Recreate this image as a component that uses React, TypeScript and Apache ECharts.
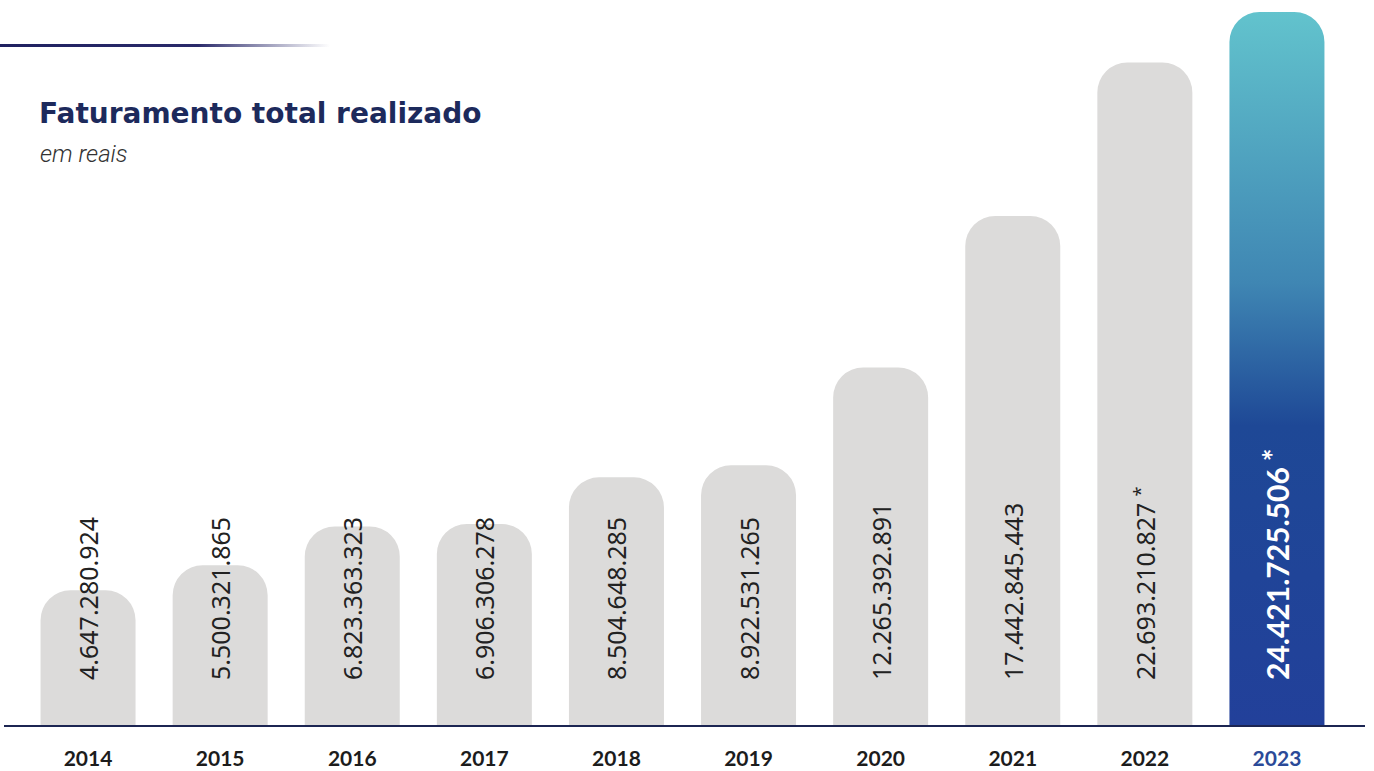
import React, { useEffect, useRef } from "react";
import * as echarts from "echarts";

const years = ["2014", "2015", "2016", "2017", "2018", "2019", "2020", "2021", "2022", "2023"];
const revenue = [
  4647280924, 5500321865, 6823363323, 6906306278, 8504648285,
  8922531265, 12265392891, 17442845443, 22693210827, 24421725506,
];
const labels = [
  "4.647.280.924", "5.500.321.865", "6.823.363.323", "6.906.306.278", "8.504.648.285",
  "8.922.531.265", "12.265.392.891", "17.442.845.443", "22.693.210.827", "24.421.725.506",
];
const flagged = [false, false, false, false, false, false, false, false, true, true];

export default function App() {
  const ref = useRef<HTMLDivElement>(null);
  useEffect(() => {
    if (!ref.current) return;
    const chart = echarts.init(ref.current, null, { renderer: "svg" });
    const last = years.length - 1;
    const data = revenue.map((v, i) => {
      const isLast = i === last;
      const item: any = {
        value: v,
        itemStyle: isLast
          ? {
              color: new echarts.graphic.LinearGradient(0, 0, 0, 1, [
                { offset: 0, color: "#62c3cd" },
                { offset: 0.38, color: "#3f86b3" },
                { offset: 0.58, color: "#1e4896" },
                { offset: 1, color: "#22409a" },
              ]),
            }
          : { color: "#dcdbda" },
      };
      if (isLast) {
        item.label = {
          rich: {
            v: { fontSize: 30, fontWeight: "bold", color: "#ffffff", fontFamily: "Lato" },
            s: { fontSize: 30, fontWeight: "bold", color: "#ffffff", fontFamily: "Lato", padding: [0, 0, 8, 6] },
          },
        };
      }
      return item;
    });
    chart.setOption({
      animation: false,
      grid: { left: 22, right: 31, top: 12, bottom: 45 },
      xAxis: {
        type: "category",
        data: years,
        axisLine: { show: false },
        axisTick: { show: false },
        axisLabel: {
          margin: 21,
          fontSize: 21,
          fontWeight: "bold",
          fontFamily: "Lato",
          color: (_v: any, i: number) => (i === last ? "#2b4a98" : "#1c1c1c"),
        },
      },
      yAxis: {
        type: "value",
        min: 0,
        max: "dataMax",
        show: false,
        splitLine: { show: false },
      },
      series: [
        {
          type: "bar",
          data,
          barWidth: 95,
          itemStyle: { borderRadius: [30, 30, 0, 0] },
          label: {
            show: true,
            position: "insideBottom",
            distance: 46,
            rotate: 90,
            align: "left",
            verticalAlign: "middle",
            formatter: (p: any) =>
              flagged[p.dataIndex] ? `{v|${labels[p.dataIndex]}}{s|*}` : `{v|${labels[p.dataIndex]}}`,
            rich: {
              v: { fontSize: 25, color: "#222222", fontFamily: "Noto Sans" },
              s: { fontSize: 18, color: "#222222", fontFamily: "Noto Sans", padding: [0, 0, 10, 6] },
            },
          },
        },
      ],
      graphic: [
        {
          type: "rect",
          shape: { x: 0, y: 44, width: 330, height: 3 },
          style: {
            fill: new echarts.graphic.LinearGradient(0, 0, 1, 0, [
              { offset: 0, color: "#1f2160" },
              { offset: 0.6, color: "#2a2a6a" },
              { offset: 1, color: "rgba(60,60,120,0)" },
            ]),
          },
        },
        {
          type: "line",
          shape: { x1: 4, y1: 726, x2: 1365, y2: 726 },
          style: { stroke: "#1c2552", lineWidth: 2 },
          z: 10,
        },
        {
          type: "text",
          x: 39,
          y: 99,
          style: {
            text: "Faturamento total realizado",
            fontSize: 28,
            fontWeight: "bold",
            fontFamily: "DejaVu Sans",
            fill: "#1d2a5c",
          },
        },
        {
          type: "text",
          x: 40,
          y: 142,
          style: {
            text: "em reais",
            fontSize: 24,
            fontStyle: "italic",
            fontWeight: 300,
            fontFamily: "Roboto",
            fill: "#333333",
          },
        },
      ],
    });
    return () => chart.dispose();
  }, []);
  return <div ref={ref} style={{ width: 1374, height: 771, position: "absolute", left: 0, top: 0 }} />;
}
